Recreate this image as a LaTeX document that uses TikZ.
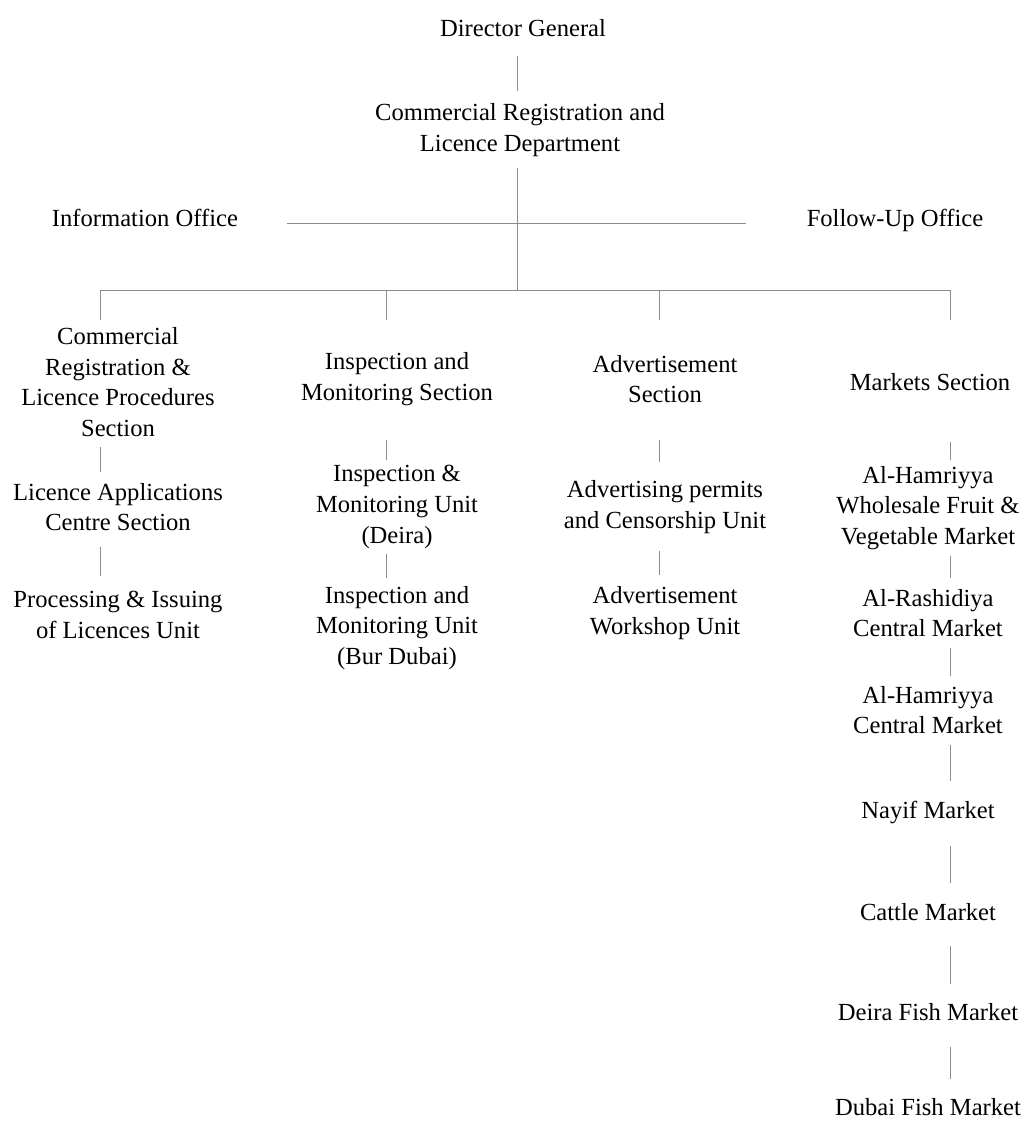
\documentclass[tikz,border=0pt]{standalone}
\usepackage{fontspec}
\setmainfont{Liberation Serif}

\begin{document}
\begin{tikzpicture}[x=0.02cm,y=-0.02cm,
		unit/.style={align=center,font=\fontsize{14}{17.5}\selectfont,inner sep=3pt},
		link/.style={draw=black!45,line width=0.5pt},
		gap/.style 2 args={shorten <=#1,shorten >=#2}]
		\useasboundingbox (0,0) rectangle (1027,1121);

		% head of the department
		\node[unit] (dg) at (523,28) {Director General};
		\node[unit] (dept) at (520,130) {Commercial Registration and\\Licence Department};
		\node[unit,anchor=base] (info) at (145,227) {Information Office};
		\node[unit,anchor=base] (follow) at (895,227) {Follow-Up Office};

		\coordinate (trunk) at (517,290);
		\coordinate (c1) at (100,290);
		\coordinate (c2) at (386,290);
		\coordinate (c3) at (659,290);
		\coordinate (c4) at (950,290);

		% sections
		\node[unit] (regsec) at (118,382) {Commercial\\Registration \&\\Licence Procedures\\Section};
		\node[unit] (lacsec) at (118,507) {Licence Applications\\Centre Section};
		\node[unit] (issue) at (118,615) {Processing \& Issuing\\of Licences Unit};

		\node[unit] (inssec) at (397,379) {Inspection and\\Monitoring Section};
		\node[unit] (deira) at (397,507) {Inspection \&\\Monitoring Unit\\(Deira)};
		\node[unit] (bur) at (397,628) {Inspection and\\Monitoring Unit\\(Bur Dubai)};

		\node[unit] (advsec) at (665,379) {Advertisement\\Section};
		\node[unit] (permits) at (665,507) {Advertising permits\\and Censorship Unit};
		\node[unit] (workshop) at (665,613) {Advertisement\\Workshop Unit};

		\node[unit] (mktsec) at (930,382) {Markets Section};
		\node[unit] (wholesale) at (928,508) {Al-Hamriyya\\Wholesale Fruit \&\\Vegetable Market};
		\node[unit] (rashidiya) at (928,613) {Al-Rashidiya\\Central Market};
		\node[unit] (hamcentral) at (928,710) {Al-Hamriyya\\Central Market};
		\node[unit] (nayif) at (928,812) {Nayif Market};
		\node[unit] (cattle) at (928,912) {Cattle Market};
		\node[unit] (deirafish) at (928,1012) {Deira Fish Market};
		\node[unit] (dubaifish) at (928,1107) {Dubai Fish Market};

		% connectors
		\draw[link,gap={0.28cm}{0.14cm}] (dg.south -| trunk) -- (dept.north -| trunk);
		\draw[link,shorten <=0.12cm] (dept.south -| trunk) -- (trunk);
		\draw[link,gap={0.86cm}{1.1cm}] (info.mid east) -- (follow.mid west);
		\draw[link] (c1) -- (c4);
		\foreach \c in {c1,c2,c3,c4}
			\draw[link] (\c) -- ++(0,30);

		\draw[link,gap={0.1cm}{0.1cm}] (regsec.south -| c1) -- (lacsec.north -| c1);
		\draw[link,gap={0.2cm}{0.2cm}] (lacsec.south -| c1) -- (issue.north -| c1);
		\draw[link,gap={0.58cm}{0cm}] (inssec.south -| c2) -- (deira.north -| c2);
		\draw[link,gap={0cm}{0.04cm}] (deira.south -| c2) -- (bur.north -| c2);
		\draw[link,gap={0.63cm}{0.25cm}] (advsec.south -| c3) -- (permits.north -| c3);
		\draw[link,gap={0.23cm}{0.11cm}] (permits.south -| c3) -- (workshop.north -| c3);
		\draw[link,gap={0.91cm}{0cm}] (mktsec.south -| c4) -- (wholesale.north -| c4);
		\draw[link,gap={0cm}{0.1cm}] (wholesale.south -| c4) -- (rashidiya.north -| c4);
		\draw[link,gap={0.1cm}{0.08cm}] (rashidiya.south -| c4) -- (hamcentral.north -| c4);
		\draw[link,gap={0.1cm}{0.28cm}] (hamcentral.south -| c4) -- (nayif.north -| c4);
		\draw[link,gap={0.34cm}{0.3cm}] (nayif.south -| c4) -- (cattle.north -| c4);
		\draw[link,gap={0.4cm}{0.28cm}] (cattle.south -| c4) -- (deirafish.north -| c4);
		\draw[link,gap={0.42cm}{0.28cm}] (deirafish.south -| c4) -- (dubaifish.north -| c4);
	\end{tikzpicture}
\end{document}
